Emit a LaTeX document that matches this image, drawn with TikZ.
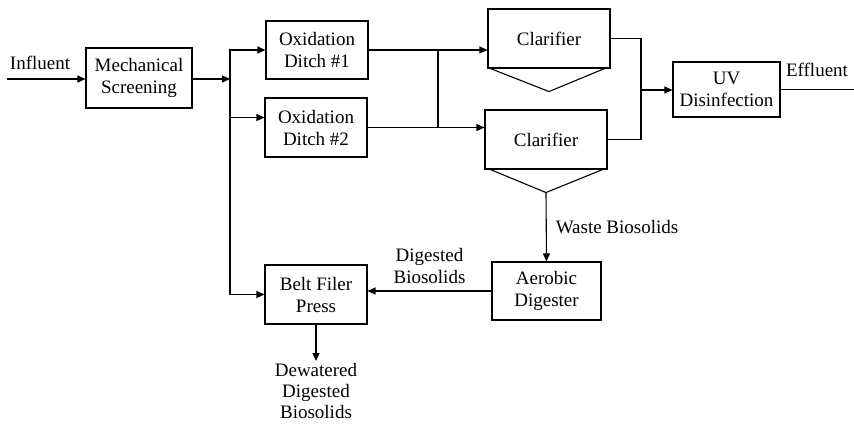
\documentclass[tikz,border=0pt]{standalone}
\usepackage{fontspec}
\setmainfont{Liberation Serif}
\usetikzlibrary{arrows.meta,calc}

\begin{document}
\begin{tikzpicture}[x=1pt, y=-1pt,
  font=\fontsize{19}{22}\selectfont, >={Triangle[length=8pt,width=7pt]},
  box/.style={draw, line width=1.1pt, align=center, minimum width=102pt, minimum height=58pt, inner sep=2pt},
  lab/.style={align=center, inner sep=2pt},
  flow/.style={->, line width=1.1pt},
  wire/.style={line width=1.1pt},
]
\useasboundingbox (0,0) rectangle (854,423);
% process units
\node[box, minimum width=106pt, minimum height=60pt] (screen) at (139,78) {Mechanical\\Screening};
\node[box] (ditch1) at (317,50) {Oxidation\\Ditch \#1};
\node[box, minimum height=59pt] (ditch2) at (316,127.5) {Oxidation\\Ditch \#2};
\node[box, minimum width=122pt, minimum height=59pt] (clar1) at (549,38.5) {Clarifier};
\node[box, minimum width=122pt, minimum height=59pt] (clar2) at (546,139.5) {Clarifier};
\node[box, minimum width=107pt, minimum height=55pt] (uv) at (726.5,89.5) {UV\\Disinfection};
\node[box, minimum width=109pt] (aer) at (546.5,291) {Aerobic\\Digester};
\node[box, minimum height=59pt] (belt) at (316,294.5) {Belt Filer\\Press};
% clarifier hoppers
\coordinate (sump1) at ($(clar1.south)+(0,23)$);
\coordinate (sump2) at ($(clar2.south)+(0,23)$);
\draw[wire] ($(clar1.south west)+(3,0)$) -- (sump1) -- ($(clar1.south east)+(-6,0)$);
\draw[wire] ($(clar2.south west)+(6,0)$) -- (sump2) -- ($(clar2.south east)+(-5,0)$);
% junction points
\coordinate (inlet) at (7,79);
\coordinate (bus) at (230,79);
\coordinate (tee) at (438,0);
\coordinate (join) at (641,90);
\coordinate (outlet) at (862,89.5);
% liquid train
\node[lab] (inflab) at (40,63) {Influent};
\draw[flow] (inlet) -- (inlet -| screen.west);
\draw[flow] (screen.east |- bus) -- (bus);
\draw[flow] (bus) |- (ditch1.west);
\draw[flow] (bus) |- ($(ditch2.west)+(0,-10)$);
\draw[flow] (bus) |- (belt.west);
\draw[flow] (ditch1.east) -- (ditch1.east -| clar1.west);
\draw[flow] (ditch2.east) -- (ditch2.east -| clar2.west);
\draw[wire] (ditch1.east -| tee) -- (ditch2.east -| tee);
\draw[wire] (clar1.east) -| (join);
\draw[wire] (clar2.east) -| (join);
\draw[flow] (join) -- (join -| uv.west);
\draw[flow] (uv.east) -- (outlet);
\node[lab] (efflab) at (817,70) {Effluent};
% solids train
\draw[flow] (sump2) -- node[lab, right=7pt] {Waste Biosolids} (aer.north);
\draw[flow] (aer.west) -- node[lab, above=5pt] {Digested\\Biosolids} (aer.west -| belt.east);
\node[lab, anchor=north, font=\fontsize{19}{21}\selectfont] (cake) at (316,361) {Dewatered\\Digested\\Biosolids};
\draw[flow] (belt.south) -- (cake.north);
\end{tikzpicture}
\end{document}
